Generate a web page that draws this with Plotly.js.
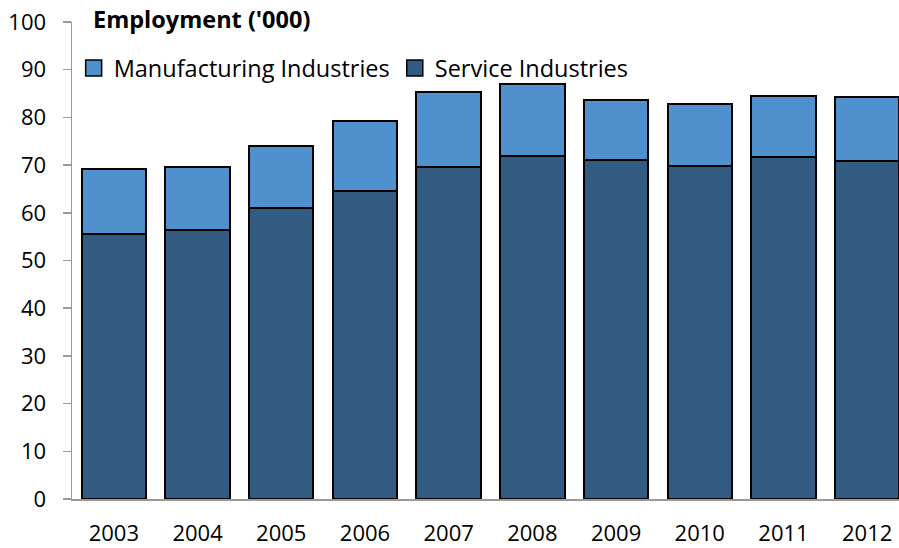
<!DOCTYPE html>
<html>
<head>
<meta charset="utf-8">
<script src="https://cdn.plot.ly/plotly-3.0.1.min.js"></script>
<style>html,body{margin:0;padding:0;background:#fff;}#chart{width:899px;height:548px;}</style>
</head>
<body>
<div id="chart"></div>
<script>
const years = ['2003','2004','2005','2006','2007','2008','2009','2010','2011','2012'];
const service = [55.5, 56.3, 61.1, 64.5, 69.7, 71.9, 71.0, 69.8, 71.8, 70.8];
const manufacturing = [13.6, 13.2, 12.9, 14.7, 15.7, 15.2, 12.6, 13.0, 12.6, 13.4];
const seriesNames = ['Manufacturing Industries', 'Service Industries'];
const colManu = '#4F90CD';
const colServ = '#335A80';
const font = 'Open Sans, Noto Sans, sans-serif';

const traces = [
  {type:'bar', x: years, y: service, name: seriesNames[1], showlegend:false,
   marker:{color: colServ, line:{color:'#000', width:2}}, width:0.77},
  {type:'bar', x: years, y: manufacturing, name: seriesNames[0], showlegend:false,
   marker:{color: colManu, line:{color:'#000', width:2}}, width:0.77},
  {type:'scatter', x:[null], y:[null], mode:'markers', name: seriesNames[0], showlegend:true,
   marker:{symbol:'square', size:16, color: colManu, line:{color:'#000', width:1.5}}},
  {type:'scatter', x:[null], y:[null], mode:'markers', name: seriesNames[1], showlegend:true,
   marker:{symbol:'square', size:16, color: colServ, line:{color:'#000', width:1.5}}}
];

const layout = {
  width: 899, height: 548,
  margin: {l:72, r:0, t:22, b:49, pad:0},
  paper_bgcolor:'#fff', plot_bgcolor:'#fff',
  barmode:'stack',
  font:{family: font, size: 22, color:'#000'},
  title:{text:"<b>Employment ('000)</b>", x: 93/899, xanchor:'left', xref:'container',
         y: 1 - 20/548, yanchor:'middle', yref:'container', font:{family: font, size:23.5, color:'#000'}},
  showlegend:true,
  legend:{orientation:'h', x: 0.002, xanchor:'left', y: 0.903, yanchor:'middle',
          font:{family: font, size:23.5, color:'#000'}, bgcolor:'rgba(0,0,0,0)',
          itemwidth:30, traceorder:'normal'},
  xaxis:{type:'category', range:[-0.5, 9.38], showgrid:false, zeroline:false,
         showline:true, linecolor:'#999', linewidth:1.5, ticks:'', ticklabelstandoff:14,
         tickfont:{family: font, size:22, color:'#000'}, fixedrange:true},
  yaxis:{range:[0,100], dtick:10, showgrid:false, zeroline:false,
         showline:true, linecolor:'#999', linewidth:1.5, ticks:'outside', ticklen:8,
         tickcolor:'#999', tickwidth:1.5, ticklabelstandoff:12,
         tickfont:{family: font, size:22, color:'#000'}, fixedrange:true}
};

Plotly.newPlot('chart', traces, layout, {displayModeBar:false, staticPlot:true});
</script>
</body>
</html>
